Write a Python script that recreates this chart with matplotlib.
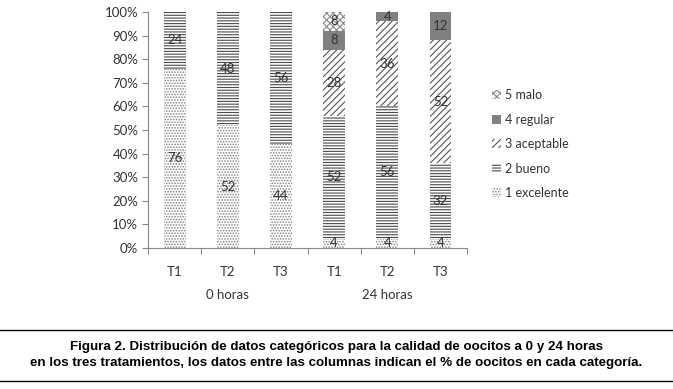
import numpy as np
import matplotlib.pyplot as plt

# calidad de oocitos por tratamiento (% en cada categoria)
tratamientos = ["T1", "T2", "T3", "T1", "T2", "T3"]
grupos = ["0 horas", "24 horas"]
categorias = ["1 excelente", "2 bueno", "3 aceptable", "4 regular", "5 malo"]

excelente = [76, 52, 44, 4, 4, 4]
bueno = [24, 48, 56, 52, 56, 32]
aceptable = [0, 0, 0, 28, 36, 52]
regular = [0, 0, 0, 8, 4, 12]
malo = [0, 0, 0, 8, 0, 0]

series = [excelente, bueno, aceptable, regular, malo]

# estilo de cada categoria (blanco y negro, como el original)
estilos = [
    dict(facecolor="white", hatch="......", edgecolor="#858585"),
    dict(facecolor="white", hatch="------", edgecolor="#4a4a4a"),
    dict(facecolor="white", hatch="/////", edgecolor="#555555"),
    dict(facecolor="#808080", hatch=None, edgecolor="#808080"),
    dict(facecolor="white", hatch="xxxxx", edgecolor="#8a8a8a"),
]

plt.rcParams["font.family"] = ["Lato", "DejaVu Sans"]
plt.rcParams["hatch.linewidth"] = 0.8

fig = plt.figure(figsize=(6.73, 3.89), dpi=100)
ax = fig.add_axes([0.22, 0.3625, 0.474, 0.6065])

x = np.arange(len(tratamientos)) + 0.5
bottom = np.zeros(len(tratamientos))
handles = []
for vals, st, cat in zip(series, estilos, categorias):
    vals = np.array(vals, dtype=float)
    b = ax.bar(x, vals, width=0.41, bottom=bottom, linewidth=0, label=cat, **st)
    handles.append(b)
    for xi, v, b0 in zip(x, vals, bottom):
        if v > 0:
            ax.text(xi, b0 + v / 2, f"{v:.0f}", ha="center", va="center",
                    fontsize=9.5, color="#333333")
    bottom += vals

ax.set_xlim(0, 6)
ax.set_ylim(0, 100)
ax.set_yticks(np.arange(0, 101, 10))
ax.set_yticklabels([f"{v}%" for v in range(0, 101, 10)], fontsize=9.5, color="#333333")
ax.set_xticks(np.arange(0, 7))
ax.set_xticklabels([])
ax.set_xticks(x, minor=True)
ax.set_xticklabels(tratamientos, minor=True, fontsize=9.5, color="#333333")
ax.tick_params(axis="x", which="major", length=4, color="#888888")
ax.tick_params(axis="x", which="minor", length=0, pad=13)
ax.tick_params(axis="y", length=4, color="#888888", pad=3)

for s in ["top", "right"]:
    ax.spines[s].set_visible(False)
for s in ["left", "bottom"]:
    ax.spines[s].set_color("#888888")
    ax.spines[s].set_linewidth(0.8)

# etiquetas de grupo
for gx, g in zip([1.5, 4.5], grupos):
    ax.text(gx, -20, g, ha="center", va="center", fontsize=9.5, color="#333333")

leg = fig.legend(handles[::-1], categorias[::-1], loc="upper left",
                 bbox_to_anchor=(0.715, 0.8), frameon=False, fontsize=9,
                 handlelength=0.7, handleheight=0.7, handletextpad=0.3,
                 labelspacing=1.0, labelcolor="#333333")

# pie de figura
fig.add_artist(plt.Line2D([0, 1], [1 - 330 / 389] * 2, color="black", lw=1))
fig.add_artist(plt.Line2D([0, 1], [1 - 381 / 389] * 2, color="black", lw=1))
fig.text(0.5, 1 - 347 / 389,
         "Figura 2. Distribución de datos categóricos para la calidad de oocitos a 0 y 24 horas",
         ha="center", va="center", fontsize=9.6, fontweight="bold",
         family=["Liberation Sans", "DejaVu Sans"])
fig.text(0.5, 1 - 363 / 389,
         "en los tres tratamientos, los datos entre las columnas indican el % de oocitos en cada categoría.",
         ha="center", va="center", fontsize=9.6, fontweight="bold",
         family=["Liberation Sans", "DejaVu Sans"])

fig.savefig("out.png", dpi=100)
